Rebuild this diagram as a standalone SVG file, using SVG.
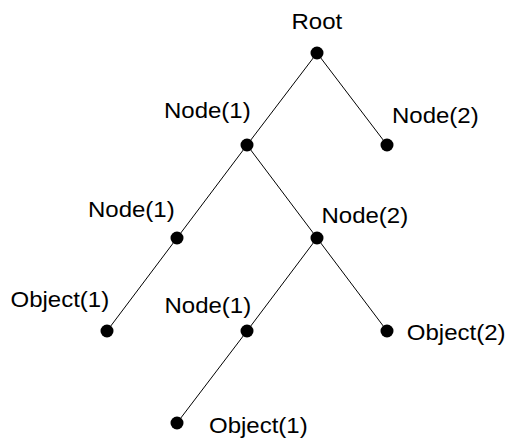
<svg xmlns="http://www.w3.org/2000/svg" width="508" height="438" viewBox="0 0 508 438">
<style>
.e{stroke:#000;stroke-width:1;fill:none}
.d{fill:#000}
.t{font-family:"Liberation Sans",Arial,sans-serif;font-size:22px;fill:#000}
</style>
<rect width="508" height="438" fill="#fff"/>
<g id="connectors">
<line class="e" x1="317" y1="53" x2="247" y2="145"/>
<line class="e" x1="317" y1="53" x2="387" y2="145"/>
<line class="e" x1="247" y1="145" x2="177" y2="238"/>
<line class="e" x1="247" y1="145" x2="317" y2="238"/>
<line class="e" x1="177" y1="238" x2="107" y2="331"/>
<line class="e" x1="317" y1="238" x2="247" y2="331"/>
<line class="e" x1="317" y1="238" x2="387" y2="331"/>
<line class="e" x1="247" y1="331" x2="177" y2="423"/>
</g>
<g id="root"><circle class="d" cx="317" cy="53" r="6.5"/><text class="t" x="291.5" y="29" textLength="50.7" lengthAdjust="spacingAndGlyphs">Root</text></g>
<g id="node1"><circle class="d" cx="247" cy="145" r="6.5"/><text class="t" x="164" y="118" textLength="86.7" lengthAdjust="spacingAndGlyphs">Node(1)</text></g>
<g id="node2"><circle class="d" cx="387" cy="145" r="6.5"/><text class="t" x="392" y="123" textLength="86.7" lengthAdjust="spacingAndGlyphs">Node(2)</text></g>
<g id="node1-1"><circle class="d" cx="177" cy="238" r="6.5"/><text class="t" x="88" y="217" textLength="86.7" lengthAdjust="spacingAndGlyphs">Node(1)</text></g>
<g id="node1-2"><circle class="d" cx="317" cy="238" r="6.5"/><text class="t" x="321.5" y="222.5" textLength="86.7" lengthAdjust="spacingAndGlyphs">Node(2)</text></g>
<g id="object1-left"><circle class="d" cx="107" cy="331" r="6.5"/><text class="t" x="10.5" y="307" textLength="98.7" lengthAdjust="spacingAndGlyphs">Object(1)</text></g>
<g id="node1-2-1"><circle class="d" cx="247" cy="331" r="6.5"/><text class="t" x="164.5" y="313" textLength="86.7" lengthAdjust="spacingAndGlyphs">Node(1)</text></g>
<g id="object2"><circle class="d" cx="387" cy="331" r="6.5"/><text class="t" x="406.8" y="340" textLength="98.7" lengthAdjust="spacingAndGlyphs">Object(2)</text></g>
<g id="object1-bottom"><circle class="d" cx="177" cy="423" r="6.5"/><text class="t" x="209" y="433" textLength="98.7" lengthAdjust="spacingAndGlyphs">Object(1)</text></g>
</svg>
